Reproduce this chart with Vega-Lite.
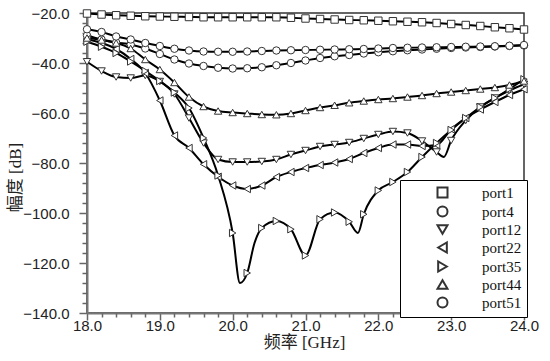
{
  "$schema": "https://vega.github.io/schema/vega-lite/v6.json",
  "width": 437,
  "height": 300,
  "autosize": {"type": "none"},
  "padding": {"left": 87, "top": 13, "right": 26, "bottom": 48},
  "background": "white",
  "config": {
    "view": {"stroke": "#333", "strokeWidth": 1.5},
    "axis": {
      "labelFont": "Liberation Sans",
      "labelFontSize": 15,
      "labelColor": "#222",
      "domainColor": "#777",
      "domainWidth": 2,
      "tickColor": "#666",
      "tickWidth": 1.5,
      "grid": false,
      "titleFont": "Liberation Serif, Noto Sans CJK SC",
      "titleFontSize": 17,
      "titleFontWeight": "normal",
      "titleColor": "#222"
    }
  },
  "data": {"values": [
    {"s":"port1","f":18.0,"v":-20.2},{"s":"port1","f":18.2,"v":-20.6},{"s":"port1","f":18.4,"v":-20.9},{"s":"port1","f":18.6,"v":-21.1},{"s":"port1","f":18.8,"v":-21.3},{"s":"port1","f":19.0,"v":-21.4},{"s":"port1","f":19.2,"v":-21.5},{"s":"port1","f":19.4,"v":-21.6},{"s":"port1","f":19.6,"v":-21.7},{"s":"port1","f":19.8,"v":-21.7},{"s":"port1","f":20.0,"v":-21.7},{"s":"port1","f":20.2,"v":-21.7},{"s":"port1","f":20.4,"v":-21.7},{"s":"port1","f":20.6,"v":-21.7},{"s":"port1","f":20.8,"v":-21.9},{"s":"port1","f":21.0,"v":-22.2},{"s":"port1","f":21.2,"v":-22.4},{"s":"port1","f":21.4,"v":-22.6},{"s":"port1","f":21.6,"v":-22.8},{"s":"port1","f":21.8,"v":-22.9},{"s":"port1","f":22.0,"v":-23.1},{"s":"port1","f":22.2,"v":-23.3},{"s":"port1","f":22.4,"v":-23.5},{"s":"port1","f":22.6,"v":-23.7},{"s":"port1","f":22.8,"v":-24.0},{"s":"port1","f":23.0,"v":-24.4},{"s":"port1","f":23.2,"v":-24.8},{"s":"port1","f":23.4,"v":-25.2},{"s":"port1","f":23.6,"v":-25.7},{"s":"port1","f":23.8,"v":-26.1},{"s":"port1","f":24.0,"v":-26.6},

    {"s":"port4","f":18.0,"v":-29.0},{"s":"port4","f":18.2,"v":-30.6},{"s":"port4","f":18.4,"v":-31.8},{"s":"port4","f":18.6,"v":-32.6},{"s":"port4","f":18.8,"v":-34.2},{"s":"port4","f":19.0,"v":-36.4},{"s":"port4","f":19.2,"v":-38.6},{"s":"port4","f":19.4,"v":-40.2},{"s":"port4","f":19.6,"v":-41.2},{"s":"port4","f":19.8,"v":-41.9},{"s":"port4","f":20.0,"v":-42.2},{"s":"port4","f":20.2,"v":-42.1},{"s":"port4","f":20.4,"v":-41.7},{"s":"port4","f":20.6,"v":-40.9},{"s":"port4","f":20.8,"v":-40.0},{"s":"port4","f":21.0,"v":-39.0},{"s":"port4","f":21.2,"v":-38.0},{"s":"port4","f":21.4,"v":-37.3},{"s":"port4","f":21.6,"v":-36.8},{"s":"port4","f":21.8,"v":-36.2},{"s":"port4","f":22.0,"v":-35.7},{"s":"port4","f":22.2,"v":-35.3},{"s":"port4","f":22.4,"v":-34.9},{"s":"port4","f":22.6,"v":-34.6},{"s":"port4","f":22.8,"v":-34.3},{"s":"port4","f":23.0,"v":-34.0},{"s":"port4","f":23.2,"v":-33.8},{"s":"port4","f":23.4,"v":-33.6},{"s":"port4","f":23.6,"v":-33.4},{"s":"port4","f":23.8,"v":-33.2},{"s":"port4","f":24.0,"v":-33.0},

    {"s":"port12","f":18.0,"v":-39.5},{"s":"port12","f":18.2,"v":-43.2},{"s":"port12","f":18.4,"v":-45.6},{"s":"port12","f":18.6,"v":-46.0},{"s":"port12","f":18.8,"v":-45.0},{"s":"port12","f":19.0,"v":-47.4},{"s":"port12","f":19.2,"v":-52.4},{"s":"port12","f":19.4,"v":-62.0},{"s":"port12","f":19.6,"v":-72.0},{"s":"port12","f":19.8,"v":-78.6},{"s":"port12","f":20.0,"v":-79.6},{"s":"port12","f":20.2,"v":-79.6},{"s":"port12","f":20.4,"v":-79.4},{"s":"port12","f":20.6,"v":-78.6},{"s":"port12","f":20.8,"v":-76.6},{"s":"port12","f":21.0,"v":-75.0},{"s":"port12","f":21.2,"v":-73.4},{"s":"port12","f":21.4,"v":-72.6},{"s":"port12","f":21.6,"v":-71.8},{"s":"port12","f":21.8,"v":-70.2},{"s":"port12","f":22.0,"v":-68.6},{"s":"port12","f":22.2,"v":-67.4},{"s":"port12","f":22.4,"v":-68.0},{"s":"port12","f":22.6,"v":-71.2},{"s":"port12","f":22.8,"v":-75.6},{"s":"port12","f":22.9,"v":-77.6,"m":0},{"s":"port12","f":23.0,"v":-71.0},{"s":"port12","f":23.2,"v":-63.0},{"s":"port12","f":23.4,"v":-57.6},{"s":"port12","f":23.6,"v":-54.0},{"s":"port12","f":23.8,"v":-51.0},{"s":"port12","f":24.0,"v":-48.5},

    {"s":"port22","f":18.0,"v":-30.5},{"s":"port22","f":18.2,"v":-32.0},{"s":"port22","f":18.4,"v":-34.4},{"s":"port22","f":18.6,"v":-38.4},{"s":"port22","f":18.8,"v":-44.0},{"s":"port22","f":19.0,"v":-55.0},{"s":"port22","f":19.2,"v":-69.0},{"s":"port22","f":19.4,"v":-74.0},{"s":"port22","f":19.6,"v":-80.5},{"s":"port22","f":19.8,"v":-85.5},{"s":"port22","f":20.0,"v":-89.0},{"s":"port22","f":20.2,"v":-90.4},{"s":"port22","f":20.4,"v":-89.0},{"s":"port22","f":20.6,"v":-85.6},{"s":"port22","f":20.8,"v":-83.6},{"s":"port22","f":21.0,"v":-82.0},{"s":"port22","f":21.2,"v":-80.8},{"s":"port22","f":21.4,"v":-79.8},{"s":"port22","f":21.6,"v":-78.4},{"s":"port22","f":21.8,"v":-76.0},{"s":"port22","f":22.0,"v":-74.0},{"s":"port22","f":22.2,"v":-72.6},{"s":"port22","f":22.4,"v":-72.6},{"s":"port22","f":22.6,"v":-73.2},{"s":"port22","f":22.8,"v":-72.8},{"s":"port22","f":23.0,"v":-66.5},{"s":"port22","f":23.2,"v":-62.0},{"s":"port22","f":23.4,"v":-58.6},{"s":"port22","f":23.6,"v":-55.6},{"s":"port22","f":23.8,"v":-52.8},{"s":"port22","f":24.0,"v":-50.5},

    {"s":"port35","f":18.0,"v":-31.5},{"s":"port35","f":18.2,"v":-33.5},{"s":"port35","f":18.4,"v":-36.0},{"s":"port35","f":18.6,"v":-39.4},{"s":"port35","f":18.8,"v":-43.2},{"s":"port35","f":19.0,"v":-47.2},{"s":"port35","f":19.2,"v":-51.8},{"s":"port35","f":19.4,"v":-58.0},{"s":"port35","f":19.6,"v":-70.0},{"s":"port35","f":19.8,"v":-85.0},{"s":"port35","f":20.0,"v":-108.0},{"s":"port35","f":20.1,"v":-128.0,"m":0},{"s":"port35","f":20.2,"v":-124.0},{"s":"port35","f":20.3,"v":-112.0,"m":0},{"s":"port35","f":20.4,"v":-106.0},{"s":"port35","f":20.6,"v":-103.2},{"s":"port35","f":20.8,"v":-106.5},{"s":"port35","f":21.0,"v":-117.0},{"s":"port35","f":21.2,"v":-102.5},{"s":"port35","f":21.4,"v":-99.8},{"s":"port35","f":21.6,"v":-103.5},{"s":"port35","f":21.72,"v":-108.0,"m":0},{"s":"port35","f":21.8,"v":-100.5},{"s":"port35","f":22.0,"v":-91.0},{"s":"port35","f":22.2,"v":-87.6},{"s":"port35","f":22.4,"v":-83.6},{"s":"port35","f":22.6,"v":-77.6},{"s":"port35","f":22.8,"v":-72.0},{"s":"port35","f":23.0,"v":-66.8},{"s":"port35","f":23.2,"v":-62.0},{"s":"port35","f":23.4,"v":-57.6},{"s":"port35","f":23.6,"v":-54.0},{"s":"port35","f":23.8,"v":-50.4},{"s":"port35","f":24.0,"v":-46.5},

    {"s":"port44","f":18.0,"v":-30.0},{"s":"port44","f":18.2,"v":-30.8},{"s":"port44","f":18.4,"v":-32.0},{"s":"port44","f":18.6,"v":-34.2},{"s":"port44","f":18.8,"v":-38.6},{"s":"port44","f":19.0,"v":-42.6},{"s":"port44","f":19.2,"v":-47.8},{"s":"port44","f":19.4,"v":-53.6},{"s":"port44","f":19.6,"v":-57.4},{"s":"port44","f":19.8,"v":-59.2},{"s":"port44","f":20.0,"v":-59.8},{"s":"port44","f":20.2,"v":-60.2},{"s":"port44","f":20.4,"v":-60.6},{"s":"port44","f":20.6,"v":-60.7},{"s":"port44","f":20.8,"v":-60.2},{"s":"port44","f":21.0,"v":-59.0},{"s":"port44","f":21.2,"v":-57.8},{"s":"port44","f":21.4,"v":-56.9},{"s":"port44","f":21.6,"v":-55.9},{"s":"port44","f":21.8,"v":-55.2},{"s":"port44","f":22.0,"v":-54.6},{"s":"port44","f":22.2,"v":-54.2},{"s":"port44","f":22.4,"v":-53.6},{"s":"port44","f":22.6,"v":-53.0},{"s":"port44","f":22.8,"v":-52.2},{"s":"port44","f":23.0,"v":-51.6},{"s":"port44","f":23.2,"v":-51.0},{"s":"port44","f":23.4,"v":-50.4},{"s":"port44","f":23.6,"v":-49.8},{"s":"port44","f":23.8,"v":-48.8},{"s":"port44","f":24.0,"v":-47.2},

    {"s":"port51","f":18.0,"v":-26.5},{"s":"port51","f":18.2,"v":-27.6},{"s":"port51","f":18.4,"v":-29.4},{"s":"port51","f":18.6,"v":-30.6},{"s":"port51","f":18.8,"v":-32.0},{"s":"port51","f":19.0,"v":-33.2},{"s":"port51","f":19.2,"v":-34.3},{"s":"port51","f":19.4,"v":-35.0},{"s":"port51","f":19.6,"v":-35.4},{"s":"port51","f":19.8,"v":-35.5},{"s":"port51","f":20.0,"v":-35.5},{"s":"port51","f":20.2,"v":-35.4},{"s":"port51","f":20.4,"v":-35.2},{"s":"port51","f":20.6,"v":-35.0},{"s":"port51","f":20.8,"v":-34.9},{"s":"port51","f":21.0,"v":-34.8},{"s":"port51","f":21.2,"v":-34.7},{"s":"port51","f":21.4,"v":-34.6},{"s":"port51","f":21.6,"v":-34.5},{"s":"port51","f":21.8,"v":-34.4},{"s":"port51","f":22.0,"v":-34.2},{"s":"port51","f":22.2,"v":-34.0},{"s":"port51","f":22.4,"v":-33.9},{"s":"port51","f":22.6,"v":-33.8},{"s":"port51","f":22.8,"v":-33.7},{"s":"port51","f":23.0,"v":-33.6},{"s":"port51","f":23.2,"v":-33.5},{"s":"port51","f":23.4,"v":-33.4},{"s":"port51","f":23.6,"v":-33.3},{"s":"port51","f":23.8,"v":-33.1},{"s":"port51","f":24.0,"v":-32.8}
  ]},
  "layer": [
    {
      "mark": {"type": "line", "interpolate": "monotone", "color": "black", "strokeWidth": 2},
      "encoding": {
        "x": {"field": "f", "type": "quantitative",
              "scale": {"domain": [18, 24], "nice": false, "zero": false},
              "axis": {"orient": "bottom", "values": [18, 19, 20, 21, 22, 23, 24], "format": ".1f",
                       "tickSize": 7, "labelPadding": -2, "labelFlush": false,
                       "title": "频率 [GHz]", "titleX": 217, "titleY": 29, "titleBaseline": "middle"}},
        "y": {"field": "v", "type": "quantitative",
              "scale": {"domain": [-140, -20], "nice": false, "zero": false},
              "axis": {"orient": "left", "values": [-20, -40, -60, -80, -100, -120, -140], "format": ".1f",
                       "tickSize": 8, "labelPadding": 10, "labelFlush": false,
                       "title": "幅度 [dB]", "titleX": -72, "titleY": 164, "titleBaseline": "middle", "titleAngle": -90}},
        "detail": {"field": "s"}
      }
    },
    {
      "transform": [{"filter": "datum.m !== 0"}],
      "mark": {"type": "point", "filled": true, "fill": "white", "stroke": "#333", "strokeWidth": 1, "opacity": 1, "size": 55},
      "encoding": {
        "x": {"field": "f", "type": "quantitative", "axis": null},
        "y": {"field": "v", "type": "quantitative", "axis": null},
        "shape": {"field": "s", "type": "nominal",
                  "scale": {"domain": ["port1","port4","port12","port22","port35","port44","port51"],
                            "range": ["square","circle","triangle-down","triangle-left","triangle-right","triangle-up","circle"]},
                  "legend": {
                    "orient": "none", "legendX": 313, "legendY": 167,
                    "title": null, "padding": 5,
                    "strokeColor": "black", "fillColor": "white",
                    "symbolSize": 100, "symbolStrokeWidth": 2,
                    "symbolOffset": 30, "labelOffset": 32, "rowPadding": 0,
                    "labelFont": "Liberation Serif", "labelFontSize": 15, "labelColor": "#111",
                    "labelExpr": "datum.label + '\u00a0\u00a0\u00a0\u00a0\u00a0\u00a0\u00a0\u00a0'"
                  }}
      }
    },
    {
      "transform": [{"filter": "datum.f < 0"}],
      "mark": {"type": "point"},
      "encoding": {
        "x": {"field": "f", "type": "quantitative",
              "axis": {"orient": "bottom", "values": [18.2,18.4,18.6,18.8,19.2,19.4,19.6,19.8,20.2,20.4,20.6,20.8,21.2,21.4,21.6,21.8,22.2,22.4,22.6,22.8,23.2,23.4,23.6,23.8],
                       "tickSize": 4, "labels": false, "domain": false, "title": null}},
        "y": {"field": "v", "type": "quantitative",
              "axis": {"orient": "left", "values": [-24,-28,-32,-36,-44,-48,-52,-56,-64,-68,-72,-76,-84,-88,-92,-96,-104,-108,-112,-116,-124,-128,-132,-136],
                       "tickSize": 5, "labels": false, "domain": false, "title": null}}
      }
    }
  ],
  "resolve": {"axis": {"x": "independent", "y": "independent"}}
}
